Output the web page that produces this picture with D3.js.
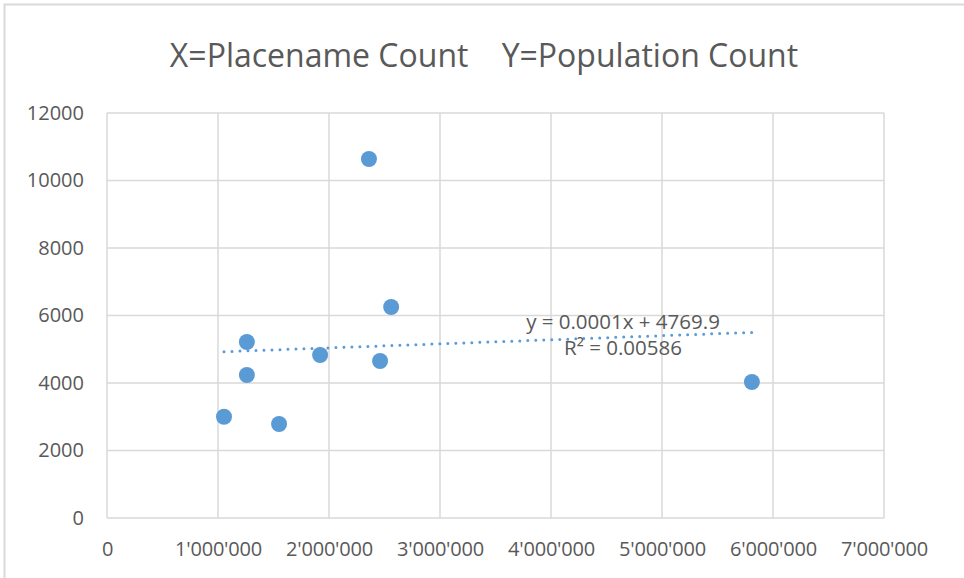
<!DOCTYPE html>
<html><head><meta charset="utf-8">
<script src="https://cdn.jsdelivr.net/npm/d3@7"></script>
<style>body{margin:0;background:#fff}svg{display:block}text{font-family:"Open Sans","Liberation Sans",sans-serif}</style>
</head><body><svg id="c" width="964" height="578"></svg>
<script>
const placenameCounts = [1054000, 1260000, 1260000, 1550000, 1920000, 2360000, 2460000, 2560000, 5810000];
const populationCounts = [3000, 5215, 4237, 2785, 4830, 10637, 4652, 6252, 4030];
const xTicks = [0,1000000,2000000,3000000,4000000,5000000,6000000,7000000];
const yTicks = [0,2000,4000,6000,8000,10000,12000];
const titleText = "X=Placename Count    Y=Population Count";
const eqText = "y = 0.0001x + 4769.9";
const r2Text = "R² = 0.00586";

const svg = d3.select("#c");
svg.append("rect").attr("x",4.5).attr("y",4.5).attr("width",1000).attr("height",1000)
  .attr("fill","#fff").attr("stroke","#d9d9d9").attr("stroke-width",2);

const x = d3.scaleLinear().domain([0,7000000]).range([107,884]);
const y = d3.scaleLinear().domain([0,12000]).range([518,113]);

// grid
svg.append("g").selectAll("line").data(yTicks).join("line")
  .attr("x1",107).attr("x2",884).attr("y1",d=>y(d)).attr("y2",d=>y(d))
  .attr("stroke","#d9d9d9").attr("stroke-width",1.5);
svg.append("g").selectAll("line").data(xTicks).join("line")
  .attr("y1",113).attr("y2",518).attr("x1",d=>x(d)).attr("x2",d=>x(d))
  .attr("stroke","#d9d9d9").attr("stroke-width",1.5);

const fmt = d => d===0 ? "0" : d3.format(",")(d).replace(/,/g,"'");
const xAxis = svg.append("g").attr("transform","translate(0,518)")
  .call(d3.axisBottom(x).tickValues(xTicks).tickFormat(fmt).tickSize(0).tickPadding(24));
xAxis.select(".domain").remove();
xAxis.selectAll("text").attr("fill","#595959").style("font-size","20px").style("letter-spacing","-0.2px");

const yAxis = svg.append("g").attr("transform","translate(84,0)")
  .call(d3.axisLeft(y).tickValues(yTicks).tickFormat(d=>String(d)).tickSize(0).tickPadding(0));
yAxis.select(".domain").remove();
yAxis.selectAll("text").attr("fill","#595959").style("font-size","20px");

// title
svg.append("text").attr("x",484).attr("y",67).attr("text-anchor","middle")
  .attr("fill","#595959").style("font-size","32px").style("white-space","pre")
  .attr("xml:space","preserve").text(titleText);

// regression trendline
const n = placenameCounts.length;
const mx = d3.mean(placenameCounts), my = d3.mean(populationCounts);
let sxy=0, sxx=0;
for(let i=0;i<n;i++){sxy+=(placenameCounts[i]-mx)*(populationCounts[i]-my);sxx+=(placenameCounts[i]-mx)**2;}
const slope = sxy/sxx, icpt = my - slope*mx;
const x0 = d3.min(placenameCounts), x1 = d3.max(placenameCounts);
svg.append("line").attr("x1",x(x0)).attr("y1",y(icpt+slope*x0)).attr("x2",x(x1)).attr("y2",y(icpt+slope*x1))
  .attr("stroke","#5b9bd5").attr("stroke-width",3).attr("stroke-dasharray","0 8").attr("stroke-linecap","round");

// points
svg.append("g").selectAll("circle").data(placenameCounts.map((v,i)=>[v,populationCounts[i]])).join("circle")
  .attr("cx",d=>x(d[0])).attr("cy",d=>y(d[1])).attr("r",8).attr("fill","#5b9bd5");

// equation labels
svg.append("text").attr("x",623).attr("y",329).attr("text-anchor","middle").attr("fill","#595959")
  .style("font-size","20.5px").text(eqText);
svg.append("text").attr("x",623).attr("y",355).attr("text-anchor","middle").attr("fill","#595959")
  .style("font-size","20.5px").text(r2Text);
</script></body></html>
